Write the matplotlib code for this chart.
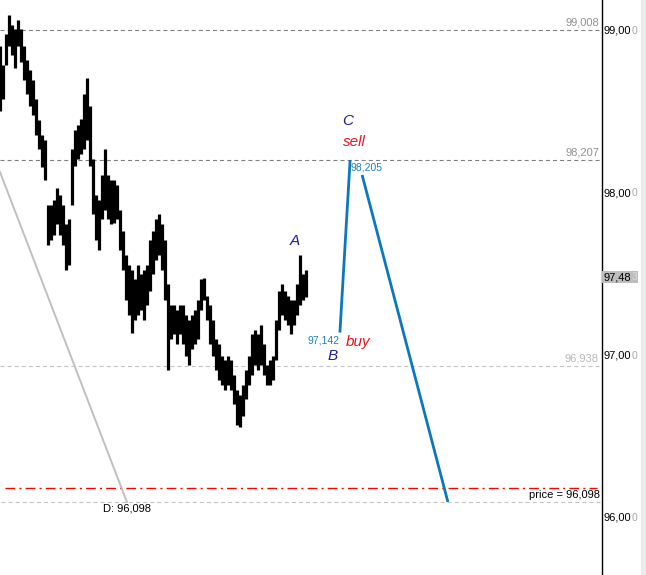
import numpy as np
import matplotlib
matplotlib.use('Agg')
import matplotlib.pyplot as plt
from matplotlib.patches import Rectangle

plt.rcParams['font.family'] = ['Liberation Sans', 'DejaVu Sans']
plt.rcParams['lines.scale_dashes'] = False

# price bars (high / low), one bar per index step
highs = [98.91, 98.79, 98.98, 99.10, 99.04, 99.01, 99.07, 99.01, 98.91, 98.82,
         98.76, 98.70, 98.58, 98.45, 98.36, 98.33, 97.93, 97.93, 97.96, 98.03,
         97.99, 97.93, 97.81, 97.84, 98.27, 98.39, 98.42, 98.46, 98.61, 98.71,
         98.54, 98.21, 97.99, 97.96, 98.11, 98.27, 98.11, 98.08, 98.08, 98.05,
         97.90, 97.77, 97.62, 97.56, 97.53, 97.47, 97.56, 97.50, 97.53, 97.56,
         97.71, 97.77, 97.84, 97.87, 97.81, 97.71, 97.44, 97.31, 97.31, 97.28,
         97.31, 97.31, 97.25, 97.22, 97.25, 97.28, 97.34, 97.47, 97.48, 97.37,
         97.31, 97.22, 97.10, 97.07, 97.00, 96.97, 97.00, 96.97, 96.88, 96.79,
         96.76, 96.82, 96.91, 97.00, 97.13, 97.16, 97.13, 97.19, 97.07, 96.94,
         96.97, 97.00, 97.22, 97.40, 97.44, 97.40, 97.37, 97.34, 97.34, 97.44,
         97.62, 97.50, 97.53]
lows = [98.51, 98.58, 98.79, 98.91, 98.85, 98.77, 98.91, 98.81, 98.70, 98.61,
        98.54, 98.48, 98.36, 98.27, 98.16, 98.08, 97.68, 97.71, 97.74, 97.81,
        97.74, 97.68, 97.53, 97.56, 97.93, 98.17, 98.21, 98.24, 98.27, 98.33,
        98.17, 97.87, 97.71, 97.65, 97.84, 97.90, 97.84, 97.81, 97.82, 97.84,
        97.65, 97.53, 97.34, 97.25, 97.14, 97.22, 97.25, 97.28, 97.22, 97.31,
        97.40, 97.50, 97.59, 97.62, 97.53, 97.34, 96.91, 97.10, 97.13, 97.07,
        97.13, 97.07, 97.00, 96.94, 97.04, 97.07, 97.10, 97.28, 97.34, 97.22,
        97.07, 97.00, 96.91, 96.85, 96.82, 96.79, 96.82, 96.79, 96.70, 96.57,
        96.56, 96.63, 96.73, 96.82, 96.88, 96.94, 96.91, 96.94, 96.88, 96.82,
        96.82, 96.85, 96.97, 97.16, 97.25, 97.22, 97.19, 97.13, 97.19, 97.25,
        97.31, 97.34, 97.36]
bar_x = np.arange(len(highs))

# forecast path B -> C and C -> D
bc_x, bc_y = [113.3, 116.7], [97.142, 98.205]
cd_x, cd_y = [120.7, 149.3], [98.113, 96.098]

# gray trend line
trend_x, trend_y = [0, 42.3], [98.131, 96.098]

levels_dark = [99.008, 98.207]
level_light = 96.938
level_d = 96.098
level_red = 96.184
last_price = 97.483
axis_ticks = [99, 98, 97, 96]

fig = plt.figure(figsize=(6.46, 5.75), dpi=100)
ax = fig.add_axes([0, 0, 602 / 646, 1])
ax.set_xlim(0, 602 / 3)
ax.set_ylim(95.648, 99.191)
for s in ['left', 'top', 'bottom']:
    ax.spines[s].set_visible(False)
ax.spines['right'].set_color('black')
ax.spines['right'].set_linewidth(1.0)
ax.set_xticks([])
ax.set_yticks([])

fig.patches.append(Rectangle((641 / 646, 0), 5 / 646, 1, transform=fig.transFigure,
                             color='#ebebeb', zorder=0))

yax = ax.get_yaxis_transform()

# level lines
for lv in levels_dark:
    ax.axhline(lv, color='#808080', lw=0.8, dashes=(2.9, 2.2))
    ax.text(0.995, lv + 0.012, f'{lv:.3f}'.replace('.', ','), transform=yax,
            ha='right', va='bottom', fontsize=8, color='#909090')
ax.axhline(level_light, color='#c4c4c4', lw=0.8, dashes=(2.9, 2.2))
ax.text(0.995, level_light + 0.012, f'{level_light:.3f}'.replace('.', ','),
        transform=yax, ha='right', va='bottom', fontsize=8, color='#b8b8b8')
ax.plot([1 / 3, 600 / 3], [level_d, level_d], color='#c4c4c4', lw=0.8, dashes=(2.9, 2.2))
ax.plot([5 / 3, 597 / 3], [level_red, level_red], color='#ff0000', lw=1.0,
        dashes=(7, 3, 1.5, 3))

# trend line
ax.plot(trend_x, trend_y, color='#c0c0c0', lw=1.4)

# price bars
ax.vlines(bar_x, lows, highs, color='black', lw=2.3)

# forecast path
ax.plot(bc_x, bc_y, color='#0b78be', lw=2.0, solid_capstyle='butt')
ax.plot(cd_x, cd_y, color='#0b78be', lw=2.0, solid_capstyle='butt')
ax.text(113, 97.096, f'{bc_y[0]:.3f}'.replace('.', ','), ha='right', va='center',
        fontsize=7.5, color='#1a80c4')
ax.text(116.7, 98.156, f'{bc_y[1]:.3f}'.replace('.', ','), ha='left', va='center',
        fontsize=7.5, color='#1a80c4')

navy = '#1c1c96'
ax.text(98.3, 97.706, 'A', color=navy, style='italic', fontsize=11, ha='center', va='center')
ax.text(111, 97.00, 'B', color=navy, style='italic', fontsize=11, ha='center', va='center')
ax.text(116, 98.445, 'C', color=navy, style='italic', fontsize=11, ha='center', va='center')
ax.text(118.3, 98.316, 'sell', color='#e8141e', style='italic', fontsize=11, ha='center', va='center')
ax.text(119.3, 97.084, 'buy', color='#e8141e', style='italic', fontsize=11, ha='center', va='center')

ax.text(0.997, 96.139, f'price = {level_d:.3f}'.replace('.', ','), transform=yax,
        ha='right', va='center', fontsize=8, color='black')
ax.text(103 / 3, 96.055, f'D: {level_d:.3f}'.replace('.', ','), ha='left', va='center',
        fontsize=8, color='black')

# right axis labels
for t in axis_ticks:
    ax.text(1.002, t, f'{t},00', transform=yax, ha='left', va='center',
            fontsize=8, color='black', clip_on=False)
    ax.text(1.0485, t, '0', transform=yax, ha='left', va='center',
            fontsize=7.5, color='#a8a8a8', clip_on=False)

lp = f'{last_price:.3f}'.replace('.', ',')
ax.text(1.002, last_price, lp[:-1], transform=yax, ha='left', va='center', fontsize=8,
        color='black', clip_on=False,
        bbox=dict(boxstyle='square,pad=0.1', fc='#bdbdbd', ec='none'))
ax.text(1.0485, last_price, lp[-1], transform=yax, ha='left', va='center', fontsize=7.5,
        color='#dcdcdc', clip_on=False,
        bbox=dict(boxstyle='square,pad=0.1', fc='#bdbdbd', ec='none'))

fig.savefig('out.png', dpi=100)
